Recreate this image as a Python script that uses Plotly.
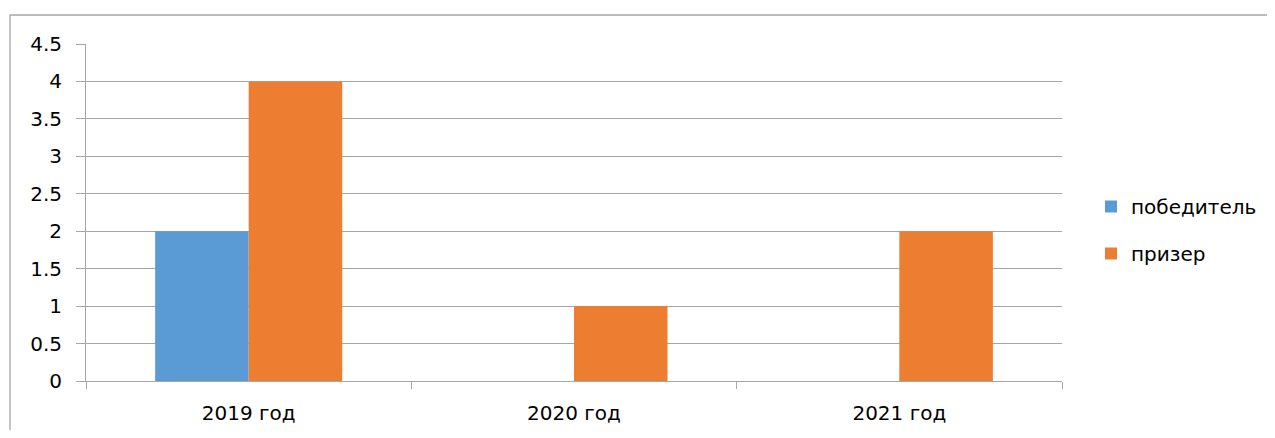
import plotly.graph_objects as go

categories = ["2019 год", "2020 год", "2021 год"]
winners = [2, 0, 0]
prizers = [4, 1, 2]
series_names = ["победитель", "призер"]
y_ticks = [0, 0.5, 1, 1.5, 2, 2.5, 3, 3.5, 4, 4.5]
y_tick_labels = ["0", "0.5", "1", "1.5", "2", "2.5", "3", "3.5", "4", "4.5"]

# page body has an 8px default margin; compensate
OFF = 8
W, H = 1275 - 2 * OFF, 438 - 2 * OFF
L = 86 - OFF
T = 44 - OFF
R = W - (1062 - OFF)
B = H - (381 - OFF)
pw, ph = W - L - R, H - T - B

FONT = "DejaVu Sans, Liberation Sans, sans-serif"


def px_x(p):  # screen px -> paper
    return (p - OFF - L) / pw


def px_y(p):
    return (H - B - (p - OFF)) / ph


def cx(p):  # screen px -> container fraction
    return (p - OFF) / W


def cy(p):
    return 1 - (p - OFF) / H


fig = go.Figure()
fig.add_trace(go.Bar(x=categories, y=winners, name=series_names[0],
                     marker=dict(color="#5b9bd5", line=dict(width=0)),
                     legendgroup="a"))
fig.add_trace(go.Bar(x=categories, y=prizers, name=series_names[1],
                     marker=dict(color="#ed7d31", line=dict(width=0)),
                     legendgroup="b"))

fig.add_shape(type="rect", xref="paper", yref="paper",
              x0=px_x(10), x1=px_x(1300), y0=px_y(460), y1=px_y(15),
              line=dict(color="#a6a6a6", width=1.3), layer="below")

fig.update_layout(
    width=W, height=H,
    margin=dict(l=L, r=R, t=T, b=B, pad=0, autoexpand=False),
    paper_bgcolor="white", plot_bgcolor="white",
    barmode="group", bargap=0.425, bargroupgap=0,
    font=dict(family=FONT, size=20, color="black"),
    showlegend=True,
    legend=dict(xref="container", yref="container",
                x=cx(1091), xanchor="left", y=cy(230), yanchor="middle",
                font=dict(size=20), traceorder="grouped", tracegroupgap=18,
                itemwidth=30, bgcolor="rgba(0,0,0,0)"),
    xaxis=dict(type="category", tickson="boundaries", ticks="outside",
               ticklen=7, tickcolor="#a6a6a6", showline=True, linecolor="#a6a6a6",
               linewidth=1, showgrid=False, tickfont=dict(size=20),
               ticklabelstandoff=14, range=[-0.5, 2.5], automargin=False),
    yaxis=dict(range=[0, 4.5], tickvals=y_ticks, ticktext=y_tick_labels,
               ticks="outside", ticklen=9, tickcolor="#a6a6a6",
               showgrid=True, gridcolor="#a6a6a6", gridwidth=1,
               showline=True, linecolor="#a6a6a6", linewidth=1,
               zeroline=False, tickfont=dict(size=20),
               ticklabelstandoff=10, automargin=False),
)

fig.write_html("out.html")
